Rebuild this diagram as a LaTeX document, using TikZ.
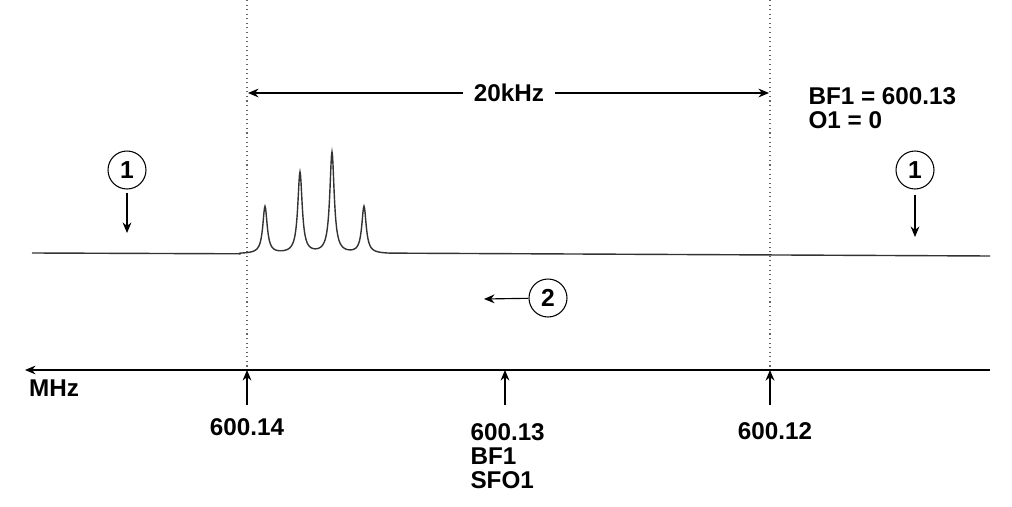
\documentclass[tikz,border=0pt]{standalone}
\usepackage{fontspec}
\setmainfont{Liberation Sans}
\usetikzlibrary{arrows.meta}
\usetikzlibrary{positioning}
\tikzset{
  > = {Stealth[length = 6pt, width = 5pt]},
  px/.style = {x = 0.02cm, y = -0.02cm},
  lbl/.style = {font = \fontsize{13.8}{13.7}\selectfont\bfseries,
                inner sep = 0pt},
  marker/.style = {circle,
                   draw,
                   line width = 0.6pt,
                   minimum size = 0.76cm,
                   inner sep = 0pt,
                   font = \fontsize{14}{15}\selectfont\bfseries},
  guide/.style = {dotted, line width = 0.6pt, black!60},
  trace/.style = {line width = 0.8pt, black!80}
}

\begin{document}
\begin{tikzpicture}[px, line width = 0.65pt]
\useasboundingbox (0,0) rectangle (1012,507);

% dotted guides at the edges of the sweep width
\coordinate (g14-top) at (247,0);
\coordinate (g14-bot) at (247,370);
\coordinate (g12-top) at (770,0);
\coordinate (g12-bot) at (770,370);
\draw[guide] (g14-top) -- (g14-bot);
\draw[guide] (g12-top) -- (g12-bot);

% sweep width
\node[lbl, inner xsep = 0.2cm](sw) at (509,93){20kHz};
\coordinate (sw-l) at (248,93);
\coordinate (sw-r) at (769,93);
\draw[->] (sw.west) -- (sw-l);
\draw[->] (sw.east) -- (sw-r);

\node[lbl, align = left, anchor = west](par) at (808,108){BF1 = 600.13\\O1 = 0};

% spectrum
\draw[trace] (32,253) -- (240,253.8)
  -- plot[domain = 240:390, samples = 301]
     (\x, {253.9 - 47*0.07/(((\x-265)/10)^2+0.07)
                 - 81*0.07/(((\x-300)/10)^2+0.07)
                 - 101*0.07/(((\x-332)/10)^2+0.07)
                 - 47*0.07/(((\x-364)/10)^2+0.07)})
  -- (990,256);

% markers
\node[marker](m1l) at (127,170){1};
\coordinate (m1l-end) at (127,233);
\draw[->, shorten <= 0.06cm] (m1l) -- (m1l-end);

\node[marker](m1r) at (915,170){1};
\coordinate (m1r-end) at (915,237);
\draw[->, shorten <= 0.1cm] (m1r) -- (m1r-end);

\node[marker](m2) at (548,298){2};
\coordinate (m2-end) at (484,299);
\draw[->] (m2) -- (m2-end);

% frequency axis
\coordinate (ax-r) at (990,370);
\coordinate (ax-l) at (25,370);
\draw[->] (ax-r) -- (ax-l);
\node[lbl](mhz) at (54,388){MHz};

\node[lbl](f14) at (247,427){600.14};
\node[lbl, align = left, anchor = north west](f13) at (470,423){600.13\\BF1\\SFO1};
\node[lbl](f12) at (775,431){600.12};

\coordinate (t14) at (247,405);
\coordinate (t13) at (505,405);
\coordinate (t12) at (770,405);
\draw[->] (t14) -- (g14-bot);
\draw[->] (t13) -- (505,370);
\draw[->, line width = 1.2pt] (t12) -- (g12-bot);

\end{tikzpicture}
\end{document}
